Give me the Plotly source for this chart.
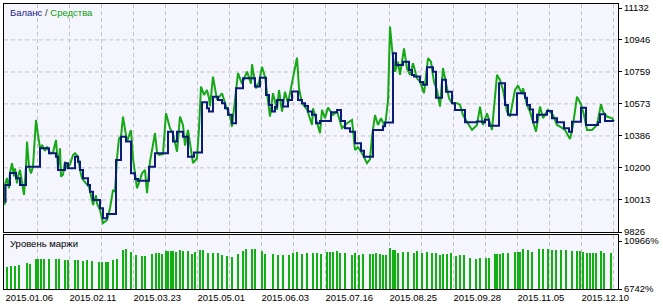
import plotly.graph_objects as go

# ---------------- data ----------------
# balance (step line), x = deal sequence position
bal_x = [5, 5.5, 10, 16, 20, 26, 40, 49, 56, 58, 65, 68, 75, 78, 80, 83, 88, 90, 93, 100, 103, 107,
         116, 121, 126, 131, 135, 138, 149, 155, 168, 173, 177, 183, 188, 194, 202, 207, 209,
         213, 218, 222, 225, 228, 232, 236, 243, 255, 260, 266, 269, 272, 275, 277, 283, 288, 292,
         298, 302, 305, 308, 312, 316, 320, 331, 337, 341, 345, 350, 355, 361, 364, 373, 383, 385,
         393, 396, 403, 409, 412, 414, 420, 423, 427, 433, 436, 442, 446, 452, 455, 465, 477, 482,
         485, 489, 499, 505, 508, 517, 525, 527, 530, 533, 537, 547, 552, 557, 564, 569, 572, 581,
         586, 598, 600, 605, 614]
bal_v = [10003, 10100, 10170, 10140, 10100, 10207, 10314, 10285, 10265, 10188, 10227, 10198, 10265,
         10235, 10188, 10139, 10100, 10061, 10013, 9964, 9906, 9931,
         10246, 10382, 10353, 10168, 10135, 10125, 10207, 10285, 10411, 10353, 10411, 10382, 10265,
         10290, 10583, 10548, 10528,
         10615, 10596, 10577, 10548, 10509, 10460, 10664, 10722, 10674, 10726, 10625, 10567, 10528,
         10555, 10596, 10557, 10596, 10645, 10596, 10577, 10560, 10528, 10509, 10460, 10473, 10524,
         10538, 10473, 10431, 10411, 10343, 10299, 10265, 10421, 10443, 10464, 10868, 10800, 10819,
         10770, 10742, 10732, 10700, 10684, 10787, 10761, 10609, 10713, 10644, 10577, 10538, 10466,
         10470, 10466, 10480, 10446, 10693, 10567, 10509, 10635, 10609, 10567, 10540, 10466, 10509,
         10532, 10489, 10466, 10431, 10411, 10469, 10551, 10450, 10466, 10513, 10473, 10473]

# equity
eq_x = [4.5, 5, 7, 9, 10, 12, 14, 15, 17, 18, 20, 22, 24, 26, 27, 29, 31, 33, 36, 38, 40, 42, 45,
        47, 50, 53, 56, 58, 60, 61, 63, 65, 67, 70, 73, 75, 78, 80, 82, 86, 89, 92, 93, 96, 97, 100,
        103, 107, 110, 113, 115, 117, 119, 121, 123, 127, 131, 133, 137, 140, 142, 145, 147, 150, 155,
        157, 159, 163, 166, 170, 173, 177, 180, 183, 185, 188, 190, 193, 197, 199, 201, 204, 207, 209,
        210, 213, 217, 222, 226, 230, 232, 236, 238, 242, 247, 251, 252, 256, 259, 262, 265, 270, 273,
        277, 279, 282, 285, 288, 293, 297, 299, 302, 307, 312, 313, 317, 320, 322, 325, 328, 333, 337,
        342, 347, 352, 355, 358, 362, 367, 370, 372, 375, 378, 381, 385, 388, 390, 392, 395, 398, 400,
        404, 407, 410, 413,
        417, 420, 424, 428, 431, 434, 437, 440, 443, 446, 449, 452, 457, 460, 463, 467, 472, 477, 480,
        483, 487, 492, 495, 497, 500, 503, 507, 510, 515, 518, 522, 523, 527, 530, 536, 540, 543, 548,
        553, 557, 560, 565, 570, 573, 577, 581, 584, 587, 592, 597, 601, 603, 607, 612, 614]
eq_v = [9983, 10100, 10140, 10081, 10170, 10227, 10150, 10197, 10110, 10150, 10188, 10100, 10042,
        10207, 10353, 10207, 10168, 10207, 10479, 10392, 10314, 10333, 10300, 10324, 10285, 10290,
        10363, 10200, 10314, 10149, 10160, 10236, 10197, 10220, 10275, 10285, 10265, 10188, 10139,
        10110, 10090, 10013, 9983, 10040, 9993, 9954, 9877, 9896, 9964, 10071, 10060, 10256, 10372,
        10382, 10499, 10353, 10421, 10256, 10081, 10130, 10168, 10188, 10052, 10236, 10402, 10290,
        10275, 10280, 10518, 10431, 10400, 10294, 10499, 10450, 10330, 10421, 10330, 10227, 10256,
        10431, 10674, 10625, 10654, 10606,
        10560, 10732, 10596, 10635, 10560, 10500, 10440, 10664, 10752, 10690, 10761, 10690, 10804,
        10664, 10700, 10790, 10730, 10499, 10635, 10538, 10654, 10528, 10644, 10577, 10732, 10843,
        10664, 10577, 10540, 10450, 10547, 10460, 10402, 10538, 10490, 10551, 10508, 10530, 10431,
        10460, 10479, 10304, 10320, 10285, 10227, 10250, 10382, 10508, 10450, 10489, 10440, 10590,
        11024, 10897, 10760, 10819, 10742, 10897, 10780, 10742, 10810,
        10722, 10703, 10635, 10839, 10819, 10700, 10654, 10557, 10781, 10700, 10606, 10577, 10577,
        10567, 10508, 10469, 10421, 10450, 10557, 10450, 10518, 10421, 10596, 10742, 10713, 10654,
        10528, 10499, 10654, 10680, 10630, 10664, 10567, 10528, 10411, 10557, 10490, 10538, 10508,
        10450, 10440, 10421, 10368, 10450, 10615, 10571, 10508, 10421, 10421, 10450, 10571, 10528,
        10499, 10489, 10473]

# margin level, %
mg_x = [7, 11, 15, 19, 27, 30, 36, 38, 41, 44, 49, 56, 59, 65, 68, 75, 78, 83, 87, 92, 99, 102, 106,
        108, 113, 117, 123, 126, 131, 136, 142, 145, 152, 156, 159, 162, 166, 168, 171, 173, 176, 180,
        183, 188, 192, 195, 200, 203, 208, 213, 218,
        222, 227, 232, 238, 243, 246, 252, 255, 262, 265, 273, 278, 283, 289, 293, 297, 302, 307, 313,
        317, 321, 327, 330, 333, 337, 340, 345, 352, 355, 359, 363, 370, 373, 376, 380, 383, 386, 390,
        393, 395, 398, 403, 408, 414, 417, 422, 427, 432, 436,
        440, 443, 447, 451, 456, 460, 464, 470, 476, 480, 486, 489, 495, 497, 500, 503, 508, 515, 518,
        520, 523, 528, 532, 539, 543, 548, 552, 556, 561, 566, 572, 577, 580, 583, 587, 590, 593, 596,
        601, 604, 611]
mg_v = [8678, 8766, 8766, 8825, 9030, 8971, 9411, 9411, 9411, 9352, 9411, 9352, 9352, 9323, 9264,
        9264, 9264, 9206, 9264, 9206, 9089, 9118, 9089, 9118, 9264, 9411, 10145, 10233, 9998, 9705,
        9616, 9616, 9792, 9939, 9910, 9851, 10057, 10057, 10057, 10057, 9998, 10145, 10057, 10057,
        9851, 9998, 10145, 10145, 9939, 9910, 9910,
        9705, 9616, 9558, 9792, 10057, 10233, 10233, 10233, 10057, 9792, 9792, 9763, 9763, 9763, 9910,
        9998, 9851, 9910, 9910, 9910, 9851, 9998, 9998, 9998, 10086, 9939, 9910, 9763, 9910, 9763,
        9792, 9792, 9792, 9910, 9851, 9763, 9763, 10350, 10145, 10145, 9910, 9998, 9998, 9939, 10086,
        9910, 9998, 9939, 9910,
        9705, 9851, 9851, 9910, 9616, 9705, 9705, 9499, 9411, 9499, 9499, 9499, 9792, 9792, 9792,
        9939, 9939, 9998, 9998, 9998, 10233, 10145, 9998, 10233, 10233, 10291, 10203, 10203, 10203,
        10203, 10086, 10057, 10057, 9998, 9910, 9910, 9910, 9939, 10057, 9939, 9939]

# tick labels
date_pos = [5, 69, 133, 197, 261, 325, 389, 453, 517, 581]
date_labels = ["2015.01.06", "2015.02.11", "2015.03.23", "2015.05.01", "2015.06.03",
               "2015.07.16", "2015.08.25", "2015.09.28", "2015.11.05", "2015.12.10"]
y_labels = ["9826", "10013", "10200", "10386", "10573", "10759", "10946", "11132"]
mg_labels = ["6742%", "10966%"]

# ---------------- figure ----------------
W, H = 663, 306
X0, X1 = 4, 618          # plot left/right px
MT, MB = 4, 232          # main panel top/bottom px
LT, LB = 235, 289        # lower panel top/bottom px

y_vals = [float(v) for v in y_labels]
ystep = (y_vals[-1] - y_vals[0]) / 7 / 32.0      # value per px
y_range = [y_vals[0], y_vals[0] + (MB - MT) * ystep]
mg_vals = [float(v.rstrip('%')) for v in mg_labels]
mstep = (mg_vals[1] - mg_vals[0]) / 48.0
mg_range = [mg_vals[0], mg_vals[0] + (LB - LT) * mstep]

GRID = "#c4c4c8"
DASH = "4px,3px"
FONT = "Liberation Sans, Arial, sans-serif"
tickfont = dict(family=FONT, size=9.5, color="#000000")

fig = go.Figure()
fig.add_trace(go.Scatter(x=eq_x, y=eq_v, mode="lines",
                         line=dict(color="#16a816", width=2), xaxis="x", yaxis="y",
                         hoverinfo="skip"))
fig.add_trace(go.Scatter(x=bal_x, y=bal_v, mode="lines",
                         line=dict(color="#0b1b7a", width=2, shape="hv"), xaxis="x", yaxis="y",
                         hoverinfo="skip"))
fig.add_trace(go.Bar(x=mg_x, y=mg_v, width=2, marker=dict(color="#12b012", line_width=0),
                     xaxis="x2", yaxis="y2", hoverinfo="skip"))

common_x = dict(range=[X0, X1], domain=[X0 / W, X1 / W], tickmode="array", tickvals=date_pos,
                showgrid=True, gridcolor=GRID, griddash=DASH, gridwidth=1, zeroline=False,
                showline=True, mirror=True, linecolor="#000000", linewidth=1,
                minor=dict(tickmode="linear", tick0=date_pos[0], dtick=(date_pos[1] - date_pos[0]) / 2,
                           showgrid=True, gridcolor=GRID, griddash=DASH, gridwidth=1),
                automargin=False, fixedrange=True)

fig.update_layout(
    width=W, height=H,
    margin=dict(l=0, r=0, t=0, b=0),
    paper_bgcolor="#ffffff",
    plot_bgcolor="#f4f5fd",
    showlegend=False,
    bargap=0,
    xaxis=dict(common_x, anchor="y", showticklabels=False),
    xaxis2=dict(common_x, anchor="y2", ticktext=date_labels, showticklabels=True,
                ticklabelposition="outside right", tickfont=tickfont, ticks="", ticklen=0),
    yaxis=dict(domain=[1 - MB / H, 1 - MT / H], range=y_range, side="right", anchor="x",
               tickmode="array", tickvals=y_vals, ticktext=y_labels, tickfont=tickfont,
               ticks="outside", ticklen=3, tickcolor="#000000",
               showgrid=False, zeroline=False, showline=True, mirror=True,
               linecolor="#000000", linewidth=1, automargin=False, fixedrange=True),
    yaxis2=dict(domain=[1 - LB / H, 1 - LT / H], range=mg_range, side="right", anchor="x2",
                tickmode="array", tickvals=mg_vals, ticktext=mg_labels, tickfont=tickfont,
                ticks="outside", ticklen=3, tickcolor="#000000",
                showgrid=False, zeroline=False, showline=True, mirror=True,
                linecolor="#000000", linewidth=1, automargin=False, fixedrange=True),
)

# horizontal dashed grid lines of the main panel (inner ticks only)
for v in y_vals[1:-1]:
    fig.add_shape(type="line", xref="x domain", yref="y", x0=0, x1=1, y0=v, y1=v,
                  line=dict(color=GRID, width=1, dash=DASH), layer="below")

fig.add_annotation(xref="paper", yref="paper", x=8 / W, y=1 - 13 / H, xanchor="left", yanchor="middle",
                   showarrow=False, font=dict(family=FONT, size=9.5),
                   text='<span style="color:#1c1c8c">Баланс</span>'
                        '<span style="color:#333333"> / </span>'
                        '<span style="color:#0c9e0c">Средства</span>')
fig.add_annotation(xref="paper", yref="paper", x=8 / W, y=1 - 243 / H, xanchor="left", yanchor="middle",
                   showarrow=False, font=dict(family=FONT, size=9.5, color="#000000"),
                   text="Уровень маржи")

fig.write_html("out.html")
